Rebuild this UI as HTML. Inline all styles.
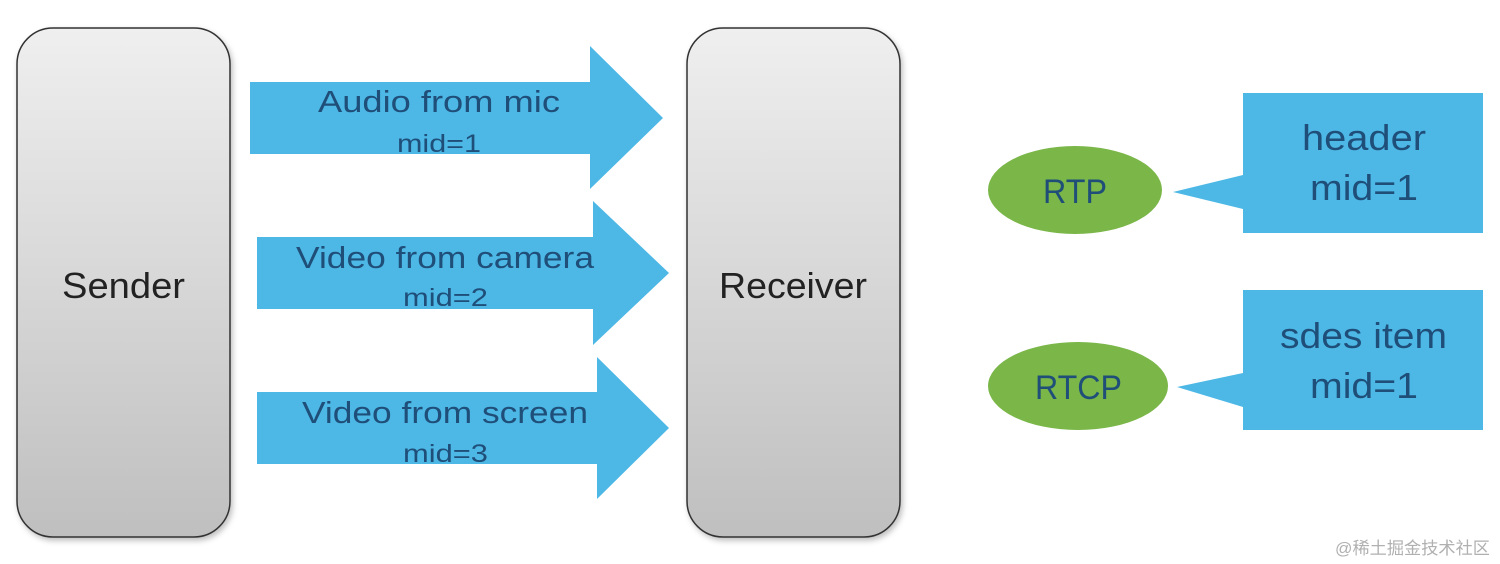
<!DOCTYPE html>
<html><head><meta charset="utf-8"><style>
html,body{margin:0;padding:0;background:#fff;width:1500px;height:564px;overflow:hidden}
svg{display:block}
</style></head><body>
<svg width="1500" height="564" viewBox="0 0 1500 564" xmlns="http://www.w3.org/2000/svg">
<defs>
<linearGradient id="g" x1="0" y1="0" x2="0" y2="1">
<stop offset="0" stop-color="#efefef"/><stop offset="1" stop-color="#bfbfbf"/>
</linearGradient>
<filter id="sh" x="-10%" y="-10%" width="130%" height="130%"><feDropShadow dx="2" dy="3" stdDeviation="3" flood-color="#000" flood-opacity="0.25"/></filter>
</defs>
<rect x="17" y="28" width="213" height="509" rx="36" fill="url(#g)" stroke="#333" stroke-width="1.5" filter="url(#sh)"/>
<rect x="687" y="28" width="213" height="509" rx="36" fill="url(#g)" stroke="#333" stroke-width="1.5" filter="url(#sh)"/>
<g fill="#4db8e6">
<polygon points="250,82 590,82 590,46 663,118 590,189 590,154 250,154"/>
<polygon points="257,237 593,237 593,201 669,273 593,345 593,309 257,309"/>
<polygon points="257,392 597,392 597,357 669,428 597,499 597,464 257,464"/>
<polygon points="1243,93 1483,93 1483,233 1243,233 1243,209 1173,192 1243,175"/>
<polygon points="1243,290 1483,290 1483,430 1243,430 1243,407 1177,387 1243,373"/>
</g>
<g fill="#7ab648">
<ellipse cx="1075" cy="190" rx="87" ry="44"/>
<ellipse cx="1078" cy="386" rx="90" ry="44"/>
</g>
<g font-family="Liberation Sans, sans-serif" fill="#1f4e79">
<text x="318" y="112" font-size="31" textLength="242" lengthAdjust="spacingAndGlyphs">Audio from mic</text>
<text x="397" y="152" font-size="25" textLength="84" lengthAdjust="spacingAndGlyphs">mid=1</text>
<text x="296" y="268" font-size="31" textLength="298" lengthAdjust="spacingAndGlyphs">Video from camera</text>
<text x="403" y="306" font-size="25" textLength="85" lengthAdjust="spacingAndGlyphs">mid=2</text>
<text x="302" y="423" font-size="31" textLength="286" lengthAdjust="spacingAndGlyphs">Video from screen</text>
<text x="403" y="462" font-size="25" textLength="85" lengthAdjust="spacingAndGlyphs">mid=3</text>
<text x="1043" y="203" font-size="34" textLength="64" lengthAdjust="spacingAndGlyphs">RTP</text>
<text x="1035" y="399" font-size="34" textLength="87" lengthAdjust="spacingAndGlyphs">RTCP</text>
<text x="1302" y="150" font-size="36" textLength="124" lengthAdjust="spacingAndGlyphs">header</text>
<text x="1310" y="200" font-size="36" textLength="108" lengthAdjust="spacingAndGlyphs">mid=1</text>
<text x="1280" y="348" font-size="36" textLength="167" lengthAdjust="spacingAndGlyphs">sdes item</text>
<text x="1310" y="398" font-size="36" textLength="108" lengthAdjust="spacingAndGlyphs">mid=1</text>
</g>
<g font-family="Liberation Sans, sans-serif" fill="#222" font-size="36">
<text x="62" y="298" textLength="123" lengthAdjust="spacingAndGlyphs">Sender</text>
<text x="719" y="298" textLength="148" lengthAdjust="spacingAndGlyphs">Receiver</text>
</g>
<text x="1335" y="554" font-family="Liberation Sans, Noto Sans CJK SC, sans-serif" font-size="17" fill="#b0b0b0" textLength="155" lengthAdjust="spacingAndGlyphs">@稀土掘金技术社区</text>
</svg>
</body></html>
